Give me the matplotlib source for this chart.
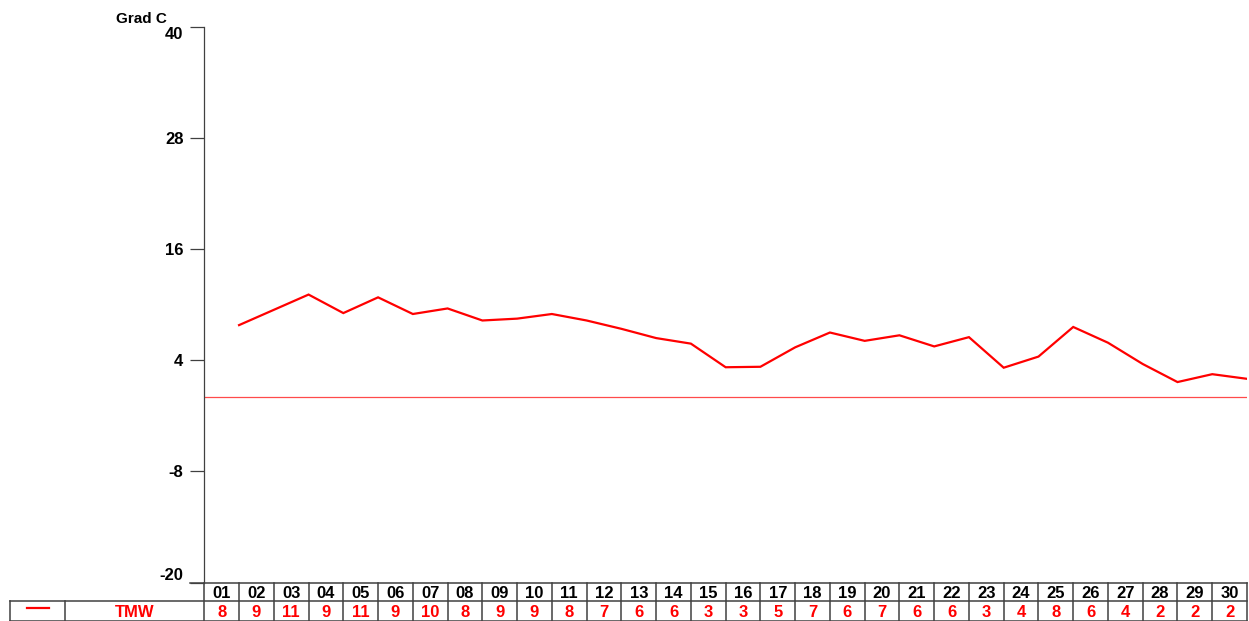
import matplotlib
matplotlib.use("Agg")
import matplotlib.pyplot as plt
import numpy as np

plt.rcParams["font.family"] = ["Liberation Sans", "DejaVu Sans"]

# 일별 평균기온 (TMW), 그림에서 읽은 값
days = ["%02d" % d for d in range(1, 31)]
tmw_line = [7.8, 9.45, 11.1, 9.1, 10.8, 9.0, 9.6, 8.3, 8.5, 9.0,
            8.3, 7.4, 6.4, 5.8, 3.25, 3.3, 5.4, 7.0, 6.1, 6.7,
            5.5, 6.5, 3.2, 4.4, 7.6, 5.9, 3.6, 1.65, 2.5, 2.0]
tmw_table = [8, 9, 11, 9, 11, 9, 10, 8, 9, 9, 8, 7, 6, 6, 3,
             3, 5, 7, 6, 7, 6, 6, 3, 4, 8, 6, 4, 2, 2, 2]
yticks = [40, 28, 16, 4, -8, -20]
series_name = "TMW"
unit = "Grad C"

W, H = 1249, 621
RED = "#ff0000"
GRID = "#404040"
FS = 12

fig = plt.figure(figsize=(W / 100, H / 100), dpi=100)
x0, x1 = 204.3, 1247.0
y_top, y_bot = 27.0, 582.5
ax = fig.add_axes([x0 / W, 1 - y_bot / H, (x1 - x0) / W, (y_bot - y_top) / H])

x = np.arange(1, len(tmw_line) + 1)
ax.plot(x, tmw_line, color=RED, lw=1.6, solid_joinstyle="miter")
ax.axhline(0, color="#ff4a4a", lw=0.9)

ax.set_xlim(0, len(days))
ax.set_ylim(-20, 40)
ax.set_xticks([])
ax.set_yticks(yticks)
ax.set_yticklabels([str(v) for v in yticks], fontsize=FS, fontweight="bold")
labs = ax.get_yticklabels()
labs[0].set_va("top")
labs[-1].set_va("bottom")
ax.tick_params(axis="y", direction="out", length=10, width=0.9, color=GRID, pad=5)
for s in ["top", "right", "bottom"]:
    ax.spines[s].set_visible(False)
ax.spines["left"].set_color(GRID)
ax.spines["left"].set_linewidth(0.9)

# 아래 표 (픽셀 좌표)
tax = fig.add_axes([0, 0, 1, 1])
tax.set_xlim(0, W)
tax.set_ylim(H, 0)
tax.axis("off")
tax.patch.set_alpha(0)

tax.text(167, 23, unit, ha="right", va="baseline", fontsize=11, fontweight="bold")

r0, r1, r2 = 582.5, 601.0, 620.5
cw = (x1 - x0) / len(days)
kw = dict(color=GRID, lw=1.1)
tax.plot([190, x1], [r0, r0], **kw)
tax.plot([10, x1], [r1, r1], **kw)
tax.plot([10, x1], [r2, r2], **kw)
tax.plot([10, 10], [r1, r2], **kw)
tax.plot([65, 65], [r1, r2], **kw)
for i in range(len(days) + 1):
    xe = x0 + i * cw
    tax.plot([xe, xe], [r0, r2], **kw)

for i, (d, v) in enumerate(zip(days, tmw_table)):
    xc = x0 + (i + 0.5) * cw
    tax.text(xc, 598.5, d, ha="center", va="baseline", fontsize=FS, fontweight="bold", color="black")
    tax.text(xc, 617.0, str(v), ha="center", va="baseline", fontsize=FS, fontweight="bold", color=RED)

tax.plot([27, 49], [608, 608], color=RED, lw=1.6)
tax.text((65 + x0) / 2, 617.0, series_name, ha="center", va="baseline",
         fontsize=FS, fontweight="bold", color=RED)

fig.savefig("out.png", dpi=100)
